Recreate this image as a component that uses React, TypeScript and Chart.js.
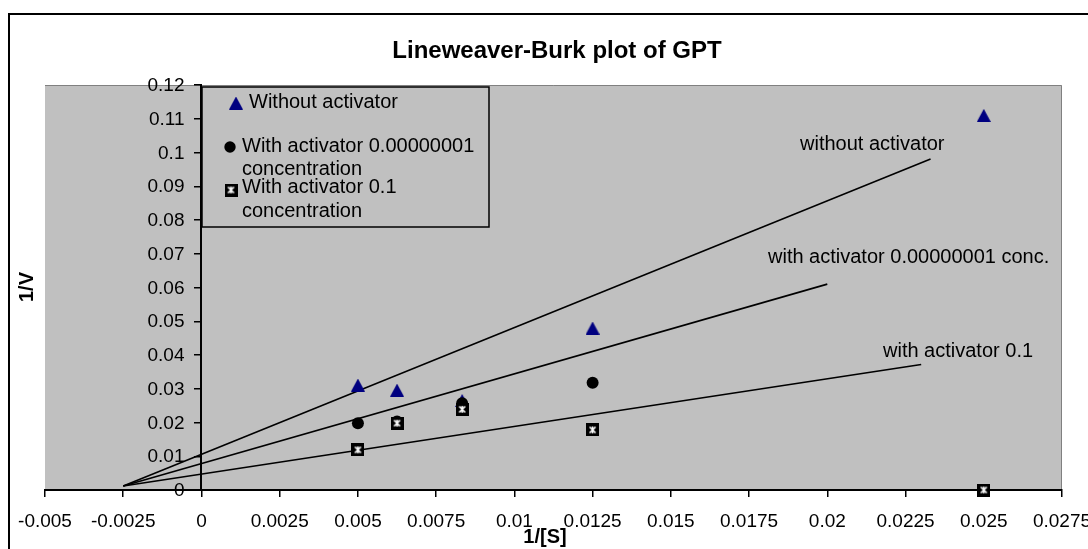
import React, { useEffect, useRef } from "react";
import { Chart, registerables } from "chart.js";

Chart.register(...registerables);

// ---- data ----
const substrateInv = [0.005, 0.00625, 0.00833, 0.0125, 0.025];
const vInvWithout = [0.0311, 0.0296, 0.0265, 0.048, 0.111];
const vInvAct1e8 = [0.0198, 0.0203, 0.0257, 0.0318, 0];
const vInvAct01 = [0.0119, 0.0198, 0.0239, 0.0178, 0];

const trendWithoutX = [-0.0025, 0.0233];
const trendWithoutY = [0.0012, 0.0981];
const trendAct1e8X = [-0.0025, 0.02];
const trendAct1e8Y = [0.0012, 0.061];
const trendAct01X = [-0.0025, 0.023];
const trendAct01Y = [0.0012, 0.0372];

const xTickValues = [-0.005, -0.0025, 0, 0.0025, 0.005, 0.0075, 0.01, 0.0125, 0.015, 0.0175, 0.02, 0.0225, 0.025, 0.0275];
const xTickLabels = ["-0.005", "-0.0025", "0", "0.0025", "0.005", "0.0075", "0.01", "0.0125", "0.015", "0.0175", "0.02", "0.0225", "0.025", "0.0275"];
const yTickValues = [0, 0.01, 0.02, 0.03, 0.04, 0.05, 0.06, 0.07, 0.08, 0.09, 0.1, 0.11, 0.12];
const yTickLabels = ["0", "0.01", "0.02", "0.03", "0.04", "0.05", "0.06", "0.07", "0.08", "0.09", "0.1", "0.11", "0.12"];

const seriesNames = ["Without activator", "With activator 0.00000001", "concentration", "With activator 0.1", "concentration"];
const trendNames = ["without activator", "with activator 0.00000001 conc.", "with activator 0.1"];
const chartTitle = "Lineweaver-Burk plot of GPT";
const xTitle = "1/[S]";
const yTitle = "1/V";

const FONT = '"Liberation Sans", Arial, sans-serif';
const NAVY = "#000080";
const PLOT_BG = "#C0C0C0";

function pts(xs: number[], ys: number[]) {
  return xs.map((x, i) => ({ x, y: ys[i] }));
}

function makeSquareMarker(size: number) {
  const c = document.createElement("canvas");
  c.width = size;
  c.height = size;
  const g = c.getContext("2d")!;
  g.fillStyle = "#000";
  g.fillRect(0, 0, size, size);
  g.strokeStyle = "#fff";
  g.lineWidth = 1.6;
  const m = 3.5;
  g.beginPath();
  g.moveTo(m, m);
  g.lineTo(size - m, size - m);
  g.moveTo(size - m, m);
  g.lineTo(m, size - m);
  g.moveTo(size / 2, m - 0.5);
  g.lineTo(size / 2, size - m + 0.5);
  g.stroke();
  return c;
}

function makeTriangleMarker(w: number, h: number) {
  const c = document.createElement("canvas");
  c.width = w;
  c.height = h;
  const g = c.getContext("2d")!;
  g.fillStyle = NAVY;
  g.beginPath();
  g.moveTo(w / 2, 0);
  g.lineTo(w, h);
  g.lineTo(0, h);
  g.closePath();
  g.fill();
  return c;
}

function labelFor(values: number[], labels: string[], v: number) {
  let best = 0;
  for (let i = 1; i < values.length; i++) {
    if (Math.abs(values[i] - v) < Math.abs(values[best] - v)) best = i;
  }
  return labels[best];
}

export default function App() {
  const ref = useRef<HTMLCanvasElement>(null);

  useEffect(() => {
    const canvas = ref.current!;
    const sq = makeSquareMarker(13);
    const tri = makeTriangleMarker(14, 13);

    const decor = {
      id: "decor",
      beforeDraw(chart: any) {
        const { ctx, chartArea: a } = chart;
        ctx.save();
        ctx.fillStyle = "#fff";
        ctx.fillRect(0, 0, chart.width, chart.height);
        // outer frame
        ctx.fillStyle = "#000";
        ctx.fillRect(8, 13, 2, chart.height);
        ctx.fillRect(8, 13, chart.width, 2);
        // plot area
        ctx.fillStyle = PLOT_BG;
        ctx.fillRect(a.left, a.top, a.right - a.left, a.bottom - a.top);
        ctx.strokeStyle = "#808080";
        ctx.lineWidth = 1;
        ctx.beginPath();
        ctx.moveTo(a.left, a.top + 0.5);
        ctx.lineTo(a.right - 0.5, a.top + 0.5);
        ctx.lineTo(a.right - 0.5, a.bottom);
        ctx.stroke();
        ctx.restore();
      },
      afterDraw(chart: any) {
        const { ctx } = chart;
        const xs = chart.scales.x;
        const ys = chart.scales.y;
        ctx.save();
        ctx.fillStyle = "#000";
        // y tick labels, left of the y axis crossing x = 0
        ctx.font = `19px ${FONT}`;
        ctx.textAlign = "right";
        ctx.textBaseline = "middle";
        const axisX = xs.getPixelForValue(0);
        ys.ticks.forEach((t: any) => {
          ctx.fillText(labelFor(yTickValues, yTickLabels, t.value), axisX - 17, ys.getPixelForValue(t.value) + 1);
        });
        ctx.textBaseline = "alphabetic";
        // title
        ctx.font = `bold 24px ${FONT}`;
        ctx.textAlign = "center";
        ctx.fillText(chartTitle, 557, 58);
        // x title
        ctx.font = `bold 20px ${FONT}`;
        ctx.fillText(xTitle, 545, 543);
        // y title
        ctx.save();
        ctx.translate(33, 287);
        ctx.rotate(-Math.PI / 2);
        ctx.fillText(yTitle, 0, 0);
        ctx.restore();
        // trend annotations
        ctx.font = `20px ${FONT}`;
        ctx.textAlign = "left";
        ctx.fillText(trendNames[0], 800, 150);
        ctx.fillText(trendNames[1], 768, 263);
        ctx.fillText(trendNames[2], 883, 357);
        // legend
        ctx.fillStyle = PLOT_BG;
        ctx.fillRect(202, 87, 287, 140);
        ctx.strokeStyle = "#000";
        ctx.lineWidth = 1.5;
        ctx.strokeRect(202, 87, 287, 140);
        ctx.drawImage(tri, 236 - 7, 103 - 6.5);
        ctx.fillStyle = "#000";
        ctx.beginPath();
        ctx.arc(230, 147, 5.7, 0, Math.PI * 2);
        ctx.fill();
        ctx.drawImage(sq, 231 - 6.5, 190 - 6.5);
        ctx.fillStyle = "#000";
        ctx.fillText(seriesNames[0], 249, 108);
        ctx.fillText(seriesNames[1], 242, 152);
        ctx.fillText(seriesNames[2], 242, 175);
        ctx.fillText(seriesNames[3], 242, 193);
        ctx.fillText(seriesNames[4], 242, 217);
        ctx.restore();
      },
    };

    const chart = new Chart(canvas, {
      type: "scatter",
      data: {
        datasets: [
          {
            label: "With activator 0.1 concentration",
            data: pts(substrateInv, vInvAct01),
            pointStyle: sq as any,
            pointRadius: 6.5,
            backgroundColor: "#000",
            borderColor: "#000",
            order: 0,
            clip: false as any,
          },
          {
            label: "With activator 0.00000001 concentration",
            data: pts(substrateInv, vInvAct1e8),
            pointStyle: "circle",
            pointRadius: 6,
            backgroundColor: "#000",
            borderColor: "#000",
            borderWidth: 0,
            order: 1,
            clip: false as any,
          },
          {
            label: "Without activator",
            data: pts(substrateInv, vInvWithout),
            pointStyle: tri as any,
            pointRadius: 7,
            backgroundColor: NAVY,
            borderColor: NAVY,
            borderWidth: 0,
            order: 2,
            clip: false as any,
          },
          {
            label: trendNames[0],
            data: pts(trendWithoutX, trendWithoutY),
            showLine: true,
            pointRadius: 0,
            borderColor: "#000",
            borderWidth: 1.6,
            order: 3,
          },
          {
            label: trendNames[1],
            data: pts(trendAct1e8X, trendAct1e8Y),
            showLine: true,
            pointRadius: 0,
            borderColor: "#000",
            borderWidth: 1.6,
            order: 3,
          },
          {
            label: trendNames[2],
            data: pts(trendAct01X, trendAct01Y),
            showLine: true,
            pointRadius: 0,
            borderColor: "#000",
            borderWidth: 1.6,
            order: 3,
          },
        ],
      },
      options: {
        responsive: false,
        animation: false,
        devicePixelRatio: 1,
        layout: { padding: { left: 45, top: 85, right: 26, bottom: 59 } },
        plugins: {
          legend: { display: false },
          tooltip: { enabled: false },
          title: { display: false },
        },
        scales: {
          x: {
            type: "linear",
            min: -0.005,
            max: 0.0275,
            position: { y: 0 } as any,
            afterBuildTicks: (s: any) => {
              s.ticks = xTickValues.map((v) => ({ value: v }));
            },
            afterFit: (s: any) => {
              s.paddingLeft = 0;
              s.paddingRight = 0;
            },
            ticks: {
              autoSkip: false,
              maxRotation: 0,
              padding: 14,
              color: "#000",
              font: { family: FONT, size: 19 },
              callback: (v: any) => labelFor(xTickValues, xTickLabels, Number(v)),
            },
            grid: { drawOnChartArea: false, drawTicks: true, tickLength: 6, color: "#000", lineWidth: 1.5 },
            border: { display: true, color: "#000", width: 2 },
          },
          y: {
            type: "linear",
            min: 0,
            max: 0.12,
            position: { x: 0 } as any,
            afterBuildTicks: (s: any) => {
              s.ticks = yTickValues.map((v) => ({ value: v }));
            },
            afterFit: (s: any) => {
              s.paddingTop = 0;
              s.paddingBottom = 0;
            },
            ticks: {
              display: false,
              autoSkip: false,
            },
            grid: { drawOnChartArea: false, drawTicks: true, tickLength: 6, color: "#000", lineWidth: 1.5 },
            border: { display: true, color: "#000", width: 2 },
          },
        },
      },
      plugins: [decor],
    });

    return () => chart.destroy();
  }, []);

  return (
    <div style={{ position: "fixed", left: 0, top: 0, width: 1088, height: 549, overflow: "hidden", background: "#fff" }}>
      <canvas ref={ref} width={1088} height={549} style={{ display: "block", width: 1088, height: 549 }} />
    </div>
  );
}
